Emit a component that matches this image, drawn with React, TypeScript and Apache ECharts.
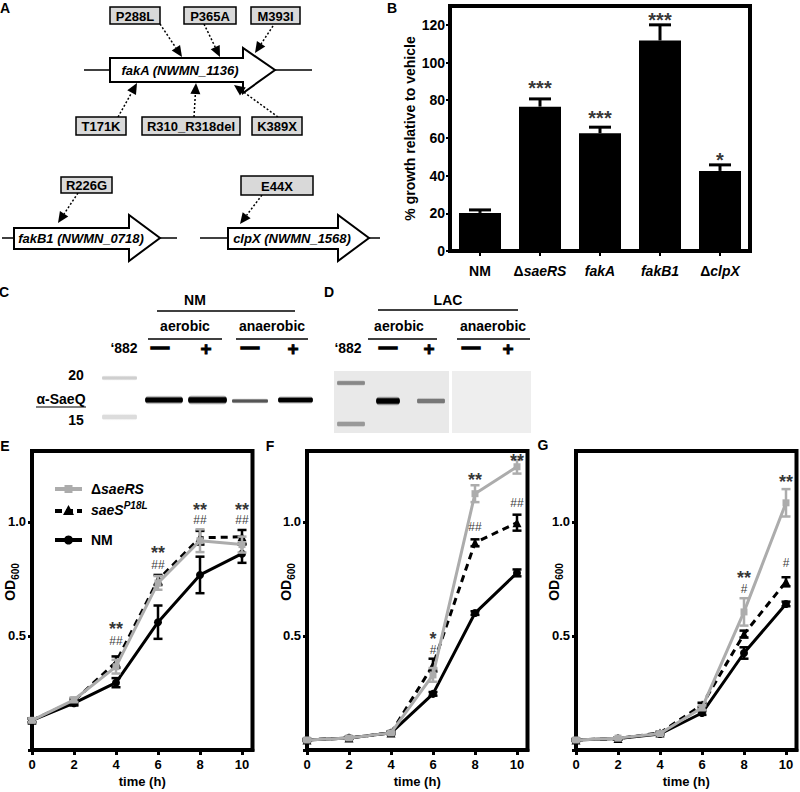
import React, { useEffect, useRef } from 'react';
import * as echarts from 'echarts';

const FONT = "'Liberation Sans', Arial, Helvetica, sans-serif";
const GRAY = '#acacac';

// ---------- Panel B data ----------
const growthCategories = ['NM', 'ΔsaeRS', 'fakA', 'fakB1', 'ΔclpX'];
const growthValues = [20.2, 76.6, 62.5, 111.7, 42.5];
const growthErrors = [1.6, 4.1, 3.2, 8.3, 3.2];
const growthStars = ['', '***', '***', '***', '*'];
const growthStarLevels = [0, 89, 73, 125, 51];
const growthTicks = [0, 20, 40, 60, 80, 100, 120];

// ---------- Panels E–G data ----------
const timeHours = [0, 2, 4, 6, 8, 10];
const odLabelTicks = [0.5, 1.0];
const odTickMarks = [0, 0.5, 1.0];

const eSaeRS = [0.13, 0.22, 0.365, 0.732, 0.917, 0.9];
const eSaeRSErr = [0.008, 0.01, 0.03, 0.03, 0.05, 0.035];
const eP18L = [0.13, 0.215, 0.385, 0.745, 0.93, 0.934];
const eP18LErr = [0.008, 0.01, 0.025, 0.022, 0.03, 0.03];
const eNM = [0.13, 0.205, 0.295, 0.56, 0.767, 0.86];
const eNMErr = [0.008, 0.01, 0.02, 0.073, 0.08, 0.04];
// [time, level of asterisks, level of hashes, asterisks, hashes]
const eAnnot: [number, number, number, string, string][] = [
  [4, 0.546, 0.476, '**', '##'],
  [6, 0.879, 0.809, '**', '##'],
  [8, 1.068, 1.007, '**', '##'],
  [10, 1.068, 1.007, '**', '##'],
];

const fSaeRS = [0.044, 0.053, 0.075, 0.329, 1.123, 1.241];
const fSaeRSErr = [0.004, 0.004, 0.005, 0.03, 0.037, 0.03];
const fP18L = [0.044, 0.053, 0.075, 0.372, 0.908, 0.996];
const fP18LErr = [0.004, 0.004, 0.005, 0.028, 0.015, 0.035];
const fNM = [0.044, 0.053, 0.075, 0.246, 0.6, 0.776];
const fNMErr = [0.004, 0.004, 0.005, 0.008, 0.008, 0.015];
const fAnnot: [number, number, number, string, string][] = [
  [6, 0.506, 0.437, '*', '#'],
  [8, 1.2, 0.978, '**', '##'],
  [10, 1.282, 1.083, '**', '##'],
];

const gSaeRS = [0.044, 0.052, 0.072, 0.185, 0.605, 1.083];
const gSaeRSErr = [0.004, 0.004, 0.005, 0.01, 0.06, 0.06];
const gP18L = [0.044, 0.05, 0.075, 0.197, 0.508, 0.737];
const gP18LErr = [0.004, 0.004, 0.005, 0.01, 0.015, 0.02];
const gNM = [0.044, 0.05, 0.07, 0.162, 0.425, 0.64];
const gNMErr = [0.004, 0.004, 0.005, 0.008, 0.025, 0.01];
const gAnnot: [number, number, number, string, string][] = [
  [8, 0.77, 0.706, '**', '#'],
  [10, 1.193, 0.82, '**', '#'],
];

const panels = [
  { left: 32, saeRS: eSaeRS, saeRSErr: eSaeRSErr, p18l: eP18L, p18lErr: eP18LErr, nm: eNM, nmErr: eNMErr, annot: eAnnot },
  { left: 307, saeRS: fSaeRS, saeRSErr: fSaeRSErr, p18l: fP18L, p18lErr: fP18LErr, nm: fNM, nmErr: fNMErr, annot: fAnnot },
  { left: 576, saeRS: gSaeRS, saeRSErr: gSaeRSErr, p18l: gP18L, p18lErr: gP18LErr, nm: gNM, nmErr: gNMErr, annot: gAnnot },
];

const OD_MAX = 1.31;
const GRID_H = 299;
const PX_PER_OD = GRID_H / OD_MAX;

// ---------- helpers for graphics ----------
const txt = (x: number, y: number, text: string, opts: any = {}) => ({
  type: 'text', x, y, z: 50,
  style: { text, fontFamily: FONT, fontSize: 13, fontWeight: 'bold', fill: '#000', align: 'center', verticalAlign: 'middle', ...opts },
});
const ln = (x1: number, y1: number, x2: number, y2: number, w = 1.5, extra: any = {}) => ({
  type: 'line', z: 40, shape: { x1, y1, x2, y2 }, style: { stroke: '#000', lineWidth: w, ...extra },
});
const box = (x1: number, y1: number, x2: number, y2: number, label: string) => [
  { type: 'rect', z: 45, shape: { x: x1, y: y1, width: x2 - x1, height: y2 - y1 }, style: { fill: '#d9d9d9', stroke: '#000', lineWidth: 1.5 } },
  txt((x1 + x2) / 2, (y1 + y2) / 2 + 0.5, label),
];
const pointer = (sx: number, sy: number, tx: number, ty: number) => {
  const dx = tx - sx, dy = ty - sy, L = Math.hypot(dx, dy);
  const ux = dx / L, uy = dy / L, hl = 11, hw = 5;
  const bx = tx - ux * hl, by = ty - uy * hl;
  return [
    ln(sx, sy, bx, by, 1.5, { lineDash: [2, 2] }),
    { type: 'polygon', z: 46, shape: { points: [[tx, ty], [bx - uy * hw, by + ux * hw], [bx + uy * hw, by - ux * hw]] }, style: { fill: '#000' } },
  ];
};
const gene = (x0: number, y1: number, y2: number, hx: number, hy1: number, hy2: number, tip: number, cy: number) => ({
  type: 'polygon', z: 42,
  shape: { points: [[x0, y1], [hx, y1], [hx, hy1], [tip, cy], [hx, hy2], [hx, y2], [x0, y2]] },
  style: { fill: '#fff', stroke: '#000', lineWidth: 2 },
});
const band = (x1: number, x2: number, cy: number, h: number, color: string) => ({
  type: 'rect', z: 30, shape: { x: x1, y: cy - h / 2, width: x2 - x1, height: h, r: h / 2 },
  style: {
    fill: new echarts.graphic.LinearGradient(0, 0, 0, 1, [
      { offset: 0, color: 'rgba(255,255,255,0)' },
      { offset: 0.3, color },
      { offset: 0.7, color },
      { offset: 1, color: 'rgba(255,255,255,0)' },
    ]),
  },
});
const dash = (x: number, y: number) => txt(x, y, '—', { fontSize: 18, stroke: '#000', lineWidth: 1.6 });
const plus = (x: number, y: number) => txt(x, y, '+', { fontSize: 19, stroke: '#000', lineWidth: 0.8 });

const italicRich = {
  i: { fontFamily: FONT, fontSize: 14, fontWeight: 'bold', fontStyle: 'italic', fill: '#000', color: '#000', lineHeight: 20, verticalAlign: 'middle' },
  d: { fontFamily: FONT, fontSize: 14, fontWeight: 'bold', fill: '#000', color: '#000', lineHeight: 20, verticalAlign: 'middle' },
  s: { fontFamily: FONT, fontSize: 10, fontWeight: 'bold', fontStyle: 'italic', fill: '#000', color: '#000', lineHeight: 20, verticalAlign: 'top' },
};
const odRich = {
  a: { fontFamily: FONT, fontSize: 14, fontWeight: 'bold', fill: '#000', lineHeight: 20, verticalAlign: 'middle' },
  b: { fontFamily: FONT, fontSize: 10, fontWeight: 'bold', fill: '#000', lineHeight: 20, verticalAlign: 'bottom' },
};

function buildGraphics() {
  const g: any[] = [];
  // panel letters
  g.push(txt(5, 8, 'A', { fontSize: 14 }), txt(392, 8, 'B', { fontSize: 14 }), txt(4, 292, 'C', { fontSize: 14 }),
    txt(329, 292, 'D', { fontSize: 14 }), txt(5, 446, 'E', { fontSize: 14 }), txt(270, 446, 'F', { fontSize: 14 }), txt(543, 445, 'G', { fontSize: 14 }));

  // ---- Panel A ----
  g.push(ln(84, 70, 312, 70), ln(2, 238, 177, 238), ln(200, 238, 380, 238));
  g.push(gene(110, 58, 82, 243, 48, 93, 275, 70));
  g.push(gene(14, 228, 249, 129, 215, 261, 160, 238));
  g.push(gene(228, 228, 249, 338, 215, 261, 369, 238));
  g.push(txt(180, 70, 'fakA (NWMN_1136)', { fontStyle: 'italic' }));
  g.push(txt(81, 238, 'fakB1 (NWMN_0718)', { fontStyle: 'italic' }));
  g.push(txt(292, 238, 'clpX (NWMN_1568)', { fontStyle: 'italic' }));
  g.push(...box(110, 7, 160, 24, 'P288L'), ...box(184, 7, 236, 24, 'P365A'), ...box(251, 7, 300, 24, 'M393I'));
  g.push(...box(76, 117, 126, 135, 'T171K'), ...box(142, 117, 240, 135, 'R310_R318del'), ...box(252, 117, 302, 135, 'K389X'));
  g.push(...box(61, 177, 112, 193, 'R226G'), ...box(241, 176, 313, 195, 'E44X'));
  g.push(...pointer(160, 24, 182, 57), ...pointer(204, 24, 220, 57), ...pointer(273, 26, 255, 53));
  g.push(...pointer(118, 117, 137, 83), ...pointer(194, 117, 196, 83), ...pointer(278, 117, 234, 85));
  g.push(...pointer(78, 193, 58, 223), ...pointer(262, 195, 240, 224));

  // ---- Panel C ----
  g.push(txt(195, 300, 'NM', { fontSize: 14 }), ln(157, 311, 295, 311));
  g.push(txt(185, 326, 'aerobic', { fontSize: 14 }), txt(272, 326, 'anaerobic', { fontSize: 14 }));
  g.push(ln(148, 339, 222, 339), ln(236, 339, 308, 339));
  g.push(txt(124, 348, '‘882', { fontSize: 14 }));
  g.push(dash(160, 347), plus(206, 348), dash(250, 347), plus(293, 348));
  g.push(txt(76, 375, '20', { fontSize: 14 }), txt(61, 399, 'α-SaeQ', { fontSize: 14 }), ln(36, 407, 86, 407, 1.2), txt(76, 420, '15', { fontSize: 14 }));
  g.push(band(102, 137, 378, 6, '#cfcfcf'), band(102, 137, 417, 8, '#dcdcdc'));
  g.push(band(145, 183, 400, 10, '#000'), band(188, 227, 400, 11, '#000'), band(232, 268, 401, 6, '#555'), band(278, 313, 400, 9, '#000'));

  // ---- Panel D ----
  g.push(txt(448, 300, 'LAC', { fontSize: 14 }), ln(378, 310, 518, 310));
  g.push(txt(399, 326, 'aerobic', { fontSize: 14 }), txt(493, 326, 'anaerobic', { fontSize: 14 }));
  g.push(ln(368, 339, 437, 339), ln(457, 339, 530, 339));
  g.push(txt(348, 348, '‘882', { fontSize: 14 }));
  g.push(dash(388, 347), plus(429, 348), dash(471, 347), plus(508, 348));
  g.push({ type: 'rect', z: 20, shape: { x: 334, y: 371, width: 115, height: 62 }, style: { fill: '#e9e9e9' } });
  g.push({ type: 'rect', z: 20, shape: { x: 452, y: 371, width: 79, height: 62 }, style: { fill: '#eeeeee' } });
  g.push(band(337, 365, 383, 7, '#888'), band(337, 365, 424, 8, '#999'));
  g.push(band(376, 400, 401, 11, '#000'), band(417, 445, 401, 8, '#777'));

  // ---- Legend in E ----
  g.push(ln(55, 489, 82, 489, 4, { stroke: GRAY }));
  g.push({ type: 'rect', z: 45, shape: { x: 64.5, y: 485, width: 8, height: 8 }, style: { fill: GRAY } });
  g.push({ type: 'text', z: 50, x: 91, y: 489, style: { text: '{d|Δ}{i|saeRS}', rich: italicRich, align: 'left', verticalAlign: 'middle' } });
  g.push(ln(55, 511, 82, 511, 4, { lineDash: [7, 4] }));
  g.push({ type: 'polygon', z: 45, shape: { points: [[68.5, 505], [63, 515], [74, 515]] }, style: { fill: '#000' } });
  g.push({ type: 'text', z: 50, x: 91, y: 510, style: { text: '{i|saeS}{s|P18L}', rich: italicRich, align: 'left', verticalAlign: 'middle' } });
  g.push(ln(55, 540, 82, 540, 4));
  g.push({ type: 'circle', z: 45, shape: { cx: 68.5, cy: 540, r: 4.5 }, style: { fill: '#000' } });
  g.push({ type: 'text', z: 50, x: 91, y: 540, style: { text: '{d|NM}', rich: italicRich, align: 'left', verticalAlign: 'middle' } });

  // ---- OD600 axis names ----
  [10, 286, 554].forEach((x) => {
    g.push({ type: 'text', z: 50, x, y: 582, rotation: Math.PI / 2, style: { text: '{a|OD}{b|600}', rich: odRich, align: 'center', verticalAlign: 'middle' } });
  });
  return g;
}

const errRender = (color: string, cap: number, lw: number) => (params: any, api: any) => {
  const x = api.value(0), y = api.value(1), e = api.value(2);
  const top = api.coord([x, y + e]);
  const bot = api.coord([x, y - e]);
  const st = { stroke: color, lineWidth: lw };
  return {
    type: 'group',
    children: [
      { type: 'line', shape: { x1: top[0], y1: top[1], x2: bot[0], y2: bot[1] }, style: st },
      { type: 'line', shape: { x1: top[0] - cap, y1: top[1], x2: top[0] + cap, y2: top[1] }, style: st },
      { type: 'line', shape: { x1: bot[0] - cap, y1: bot[1], x2: bot[0] + cap, y2: bot[1] }, style: st },
    ],
  };
};

const barErrRender = (params: any, api: any) => {
  const x = api.value(0), y = api.value(1), e = api.value(2);
  const base = api.coord([x, y]);
  const top = api.coord([x, y + e]);
  const st = { stroke: '#000', lineWidth: 3 };
  return {
    type: 'group',
    children: [
      { type: 'line', shape: { x1: base[0], y1: base[1], x2: top[0], y2: top[1] }, style: st },
      { type: 'line', shape: { x1: top[0] - 11, y1: top[1], x2: top[0] + 11, y2: top[1] }, style: st },
    ],
  };
};

const STAR_LIFT = 4; // asterisk glyph sits above the middle of its line box
const starStyle = { fontSize: 18, fontWeight: 'bold', color: '#000', fontFamily: FONT };
const hashStyle = { fontSize: 12, fontWeight: 'normal', color: '#000', fontFamily: FONT };

// turn annotation rows into scatter items: close pairs become one two-line label
function annotItems(rows: [number, number, number, string, string][]) {
  const items: any[] = [];
  rows.forEach(([t, sy, hy, stars, hashes]) => {
    const gap = (sy - hy) * PX_PER_OD;
    if (gap < 25) {
      const L = gap - STAR_LIFT;
      items.push({
        value: [t, hy + L / 2 / PX_PER_OD], name: `{s|${stars}}\n{h|${hashes}}`,
        label: { rich: { s: { ...starStyle, lineHeight: L }, h: { ...hashStyle, lineHeight: L } } },
      });
    } else {
      items.push({ value: [t, sy], name: stars, label: { ...starStyle, lineHeight: 8, offset: [0, STAR_LIFT] } });
      items.push({ value: [t, hy], name: hashes, label: { ...hashStyle, lineHeight: 9 } });
    }
  });
  return items;
}

function buildOption() {
  const axisText = { color: '#000', fontSize: 13, fontWeight: 'bold', fontFamily: FONT };
  const grids: any[] = [
    { left: 450, width: 300, top: 6, height: 245, show: true, borderColor: '#000', borderWidth: 4, backgroundColor: 'transparent' },
  ];
  const xAxes: any[] = [
    {
      type: 'category', gridIndex: 0, data: growthCategories,
      axisLine: { lineStyle: { color: '#000', width: 4 } },
      axisTick: { show: true, alignWithLabel: true, length: 5, lineStyle: { color: '#000', width: 2 } },
      axisLabel: {
        margin: 10, interval: 0, hideOverlap: false,
        formatter: (v: string) => (v === 'NM' ? '{d|NM}' : v.startsWith('Δ') ? `{d|Δ}{i|${v.slice(1)}}` : `{i|${v}}`),
        rich: italicRich,
      },
    },
  ];
  const yAxes: any[] = [
    {
      type: 'value', gridIndex: 0, min: 0, max: 130, interval: 20,
      axisLine: { show: true, lineStyle: { color: '#000', width: 4 } },
      axisTick: { show: true, length: 4, lineStyle: { color: '#000', width: 2 }, customValues: growthTicks },
      axisLabel: { ...axisText, fontSize: 14, margin: 5, customValues: growthTicks, formatter: (v: number) => (growthTicks.includes(v) ? String(v) : '') },
      splitLine: { show: false },
      name: '% growth relative to vehicle', nameLocation: 'middle', nameGap: 33,
      nameTextStyle: { ...axisText, fontSize: 14 },
    },
  ];
  const series: any[] = [
    { type: 'bar', xAxisIndex: 0, yAxisIndex: 0, data: growthValues, barWidth: '70%', itemStyle: { color: '#000' }, z: 2 },
    {
      type: 'custom', xAxisIndex: 0, yAxisIndex: 0, renderItem: barErrRender, z: 3,
      encode: { x: 0, y: 1 },
      data: growthValues.map((v, i) => [i, v, growthErrors[i]]),
    },
    {
      type: 'scatter', xAxisIndex: 0, yAxisIndex: 0, symbolSize: 1, itemStyle: { color: 'rgba(0,0,0,0)' }, z: 6,
      data: growthStars.map((s, i) => ({ value: [i, growthStarLevels[i]], name: s })).filter((d) => d.name !== ''),
      label: {
        show: true, position: 'inside', formatter: '{b}', color: '#000', fontFamily: FONT, textBorderWidth: 0,
        fontSize: 20, lineHeight: 10, offset: [0, 5], fontWeight: 'bold',
      },
    },
  ];

  panels.forEach((p, idx) => {
    const ax = idx + 1;
    grids.push({ left: p.left, width: 220.5, top: 451, height: GRID_H, show: true, borderColor: '#000', borderWidth: 4, backgroundColor: 'transparent' });
    xAxes.push({
      type: 'value', gridIndex: ax, min: 0, max: 10.5, interval: 2,
      axisLine: { show: true, onZero: false, lineStyle: { color: '#000', width: 4 } },
      axisTick: { show: true, length: 5, lineStyle: { color: '#000', width: 3 }, customValues: timeHours },
      axisLabel: { ...axisText, margin: 8, customValues: timeHours, formatter: (v: number) => (timeHours.includes(v) ? String(v) : '') },
      splitLine: { show: false },
      name: 'time (h)', nameLocation: 'middle', nameGap: 25, nameTextStyle: axisText,
    });
    yAxes.push({
      type: 'value', gridIndex: ax, min: 0, max: OD_MAX, interval: 0.5,
      axisLine: { show: true, onZero: false, lineStyle: { color: '#000', width: 4 } },
      axisTick: { show: true, length: 4, lineStyle: { color: '#000', width: 3 }, customValues: odTickMarks },
      axisLabel: { ...axisText, margin: 6, customValues: odLabelTicks, formatter: (v: number) => (odLabelTicks.includes(v) ? v.toFixed(1) : '') },
      splitLine: { show: false },
    });
    const pairs = (vals: number[]) => timeHours.map((t, k) => [t, vals[k]]);
    const triples = (vals: number[], errs: number[]) => timeHours.map((t, k) => [t, vals[k], errs[k]]);
    const errSeries = (vals: number[], errs: number[], color: string, z: number) => ({
      type: 'custom', xAxisIndex: ax, yAxisIndex: ax, renderItem: errRender(color, 4.5, 2.5), z,
      encode: { x: 0, y: 1 }, data: triples(vals, errs),
    });
    series.push({
      type: 'line', xAxisIndex: ax, yAxisIndex: ax, data: pairs(p.nm), symbol: 'circle', symbolSize: 8,
      lineStyle: { color: '#000', width: 3 }, itemStyle: { color: '#000' }, z: 3,
    });
    series.push(errSeries(p.nm, p.nmErr, '#000', 3));
    series.push({
      type: 'line', xAxisIndex: ax, yAxisIndex: ax, data: pairs(p.p18l), symbol: 'triangle', symbolSize: 9,
      lineStyle: { color: '#000', width: 3, type: [7, 5] }, itemStyle: { color: '#000' }, z: 4,
    });
    series.push(errSeries(p.p18l, p.p18lErr, '#000', 4));
    series.push({
      type: 'line', xAxisIndex: ax, yAxisIndex: ax, data: pairs(p.saeRS), symbol: 'rect', symbolSize: 7,
      lineStyle: { color: GRAY, width: 3 }, itemStyle: { color: GRAY }, z: 5,
    });
    series.push(errSeries(p.saeRS, p.saeRSErr, GRAY, 5));
    series.push({
      type: 'scatter', xAxisIndex: ax, yAxisIndex: ax, symbolSize: 1, itemStyle: { color: 'rgba(0,0,0,0)' }, z: 6,
      data: annotItems(p.annot),
      label: { show: true, position: 'inside', formatter: '{b}', color: '#000', fontFamily: FONT, textBorderWidth: 0 },
    });
  });

  return {
    animation: false,
    backgroundColor: '#fff',
    textStyle: { fontFamily: FONT },
    grid: grids,
    xAxis: xAxes,
    yAxis: yAxes,
    series,
    graphic: { elements: buildGraphics() },
  };
}

export default function App() {
  const ref = useRef<HTMLDivElement>(null);
  useEffect(() => {
    if (!ref.current) return;
    const chart = echarts.init(ref.current, undefined, { renderer: 'svg' });
    chart.setOption(buildOption() as any);
    return () => chart.dispose();
  }, []);
  return <div ref={ref} style={{ position: 'fixed', left: 0, top: 0, width: 800, height: 792, background: '#fff' }} />;
}
